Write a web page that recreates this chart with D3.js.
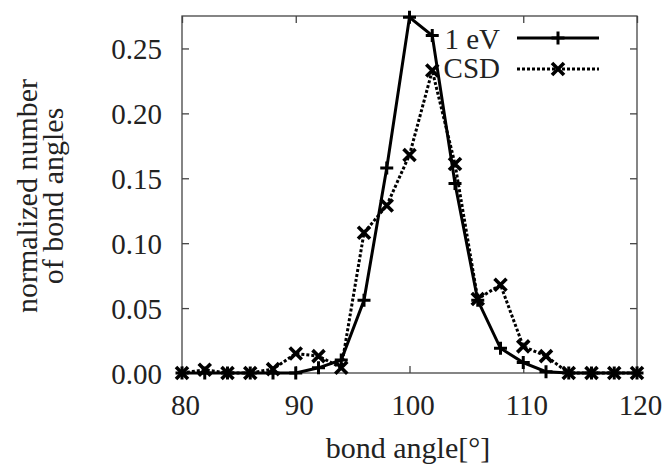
<!DOCTYPE html>
<html>
<head>
<meta charset="utf-8">
<script src="https://cdn.jsdelivr.net/npm/d3@7"></script>
</head>
<body style="margin:0;padding:0;background:#fff">
<svg id="chart" width="663" height="466"></svg>
<script>
// ---- data ----
const angles = [80, 82, 84, 86, 88, 90, 92, 94, 96, 98, 100, 102, 104, 106, 108, 110, 112, 114, 116, 118, 120];
const ev1 = [0, 0, 0, 0, 0, 0, 0.004, 0.010, 0.056, 0.158, 0.274, 0.260, 0.146, 0.056, 0.019, 0.008, 0.001, 0, 0, 0, 0];
const csd = [0, 0.0025, 0, 0, 0.003, 0.015, 0.013, 0.004, 0.108, 0.129, 0.168, 0.233, 0.161, 0.057, 0.068, 0.0205, 0.013, 0, 0, 0, 0];
const xTicks = [80, 90, 100, 110, 120];
const yTicks = [0, 0.05, 0.10, 0.15, 0.20, 0.25];
const seriesNames = ["1 eV", "CSD"];
const xTitle = "bond angle[°]";
const yTitleLines = ["normalized number", "of bond angles"];

// ---- layout ----
const L = 182, R = 637, T = 16, B = 373;
const svg = d3.select("#chart");
svg.append("rect").attr("x", 0).attr("y", 0).attr("width", 663).attr("height", 466).attr("fill", "#fff");
const x = d3.scaleLinear().domain([80, 120]).range([L, R]);
const y = d3.scaleLinear().domain([0, 0.275]).range([B, T]);

const FS = 29;
const FONT = "Liberation Serif";
const TXT = "#222";

// frame
svg.append("rect").attr("x", L).attr("y", T).attr("width", R - L).attr("height", B - T)
  .attr("fill", "none").attr("stroke", "#444").attr("stroke-width", 1.3);

// axes (inward ticks)
const gx = svg.append("g").attr("transform", `translate(0,${B})`)
  .call(d3.axisBottom(x).tickValues(xTicks).tickSize(-7).tickFormat(d3.format("d")));
gx.attr("font-family", FONT).attr("font-size", FS);
gx.select(".domain").remove();
gx.selectAll("text").attr("y", 42).attr("dy", 0).attr("x", 3)
  .attr("font-family", FONT).attr("font-size", FS).attr("fill", TXT);

const gxt = svg.append("g").attr("transform", `translate(0,${T})`)
  .call(d3.axisTop(x).tickValues(xTicks).tickSize(-7).tickFormat(""));
gxt.select(".domain").remove();

const gy = svg.append("g").attr("transform", `translate(${L},0)`)
  .call(d3.axisLeft(y).tickValues(yTicks).tickSize(-7).tickFormat(d3.format(".2f")));
gy.attr("font-family", FONT).attr("font-size", FS);
gy.select(".domain").remove();
gy.selectAll("text").attr("x", -20).attr("dy", 0).attr("y", 10)
  .attr("font-family", FONT).attr("font-size", FS).attr("fill", TXT);

const gyr = svg.append("g").attr("transform", `translate(${R},0)`)
  .call(d3.axisRight(y).tickValues(yTicks).tickSize(-7).tickFormat(""));
gyr.select(".domain").remove();

svg.selectAll(".tick line").attr("stroke", "#444").attr("stroke-width", 1.3);

// titles
svg.append("text").attr("x", 408).attr("y", 458).attr("text-anchor", "middle")
  .attr("font-family", FONT).attr("font-size", 30).attr("fill", TXT).text(xTitle);
const yt = svg.append("text").attr("transform", "translate(37,196) rotate(-90)")
  .attr("text-anchor", "middle").attr("font-family", FONT).attr("font-size", 30).attr("fill", TXT);
yt.append("tspan").attr("x", 0).attr("y", 0).text(yTitleLines[0]);
yt.append("tspan").attr("x", 0).attr("y", 26).text(yTitleLines[1]);

// series
const line = d3.line().x((d, i) => x(angles[i])).y(d => y(d));

function plus(g, cx, cy, s) {
  g.append("path").attr("d", `M${cx - s},${cy}H${cx + s}M${cx},${cy - s}V${cy + s}`)
    .attr("stroke", "#000").attr("stroke-width", 3).attr("fill", "none");
}
function cross(g, cx, cy, s) {
  g.append("path").attr("d", `M${cx - s},${cy - s}L${cx + s},${cy + s}M${cx - s},${cy + s}L${cx + s},${cy - s}`)
    .attr("stroke", "#000").attr("stroke-width", 3.6).attr("fill", "none");
}

const gc = svg.append("g");
gc.append("path").datum(csd).attr("d", line).attr("fill", "none")
  .attr("stroke", "#000").attr("stroke-width", 3).attr("stroke-dasharray", "3,2");
csd.forEach((v, i) => cross(gc, x(angles[i]), y(v), 6));

const ge = svg.append("g");
ge.append("path").datum(ev1).attr("d", line).attr("fill", "none")
  .attr("stroke", "#000").attr("stroke-width", 3);
ev1.forEach((v, i) => plus(ge, x(angles[i]), y(v), 6.5));

// legend
const lg = svg.append("g");
lg.append("text").attr("x", 500).attr("y", 49).attr("text-anchor", "end")
  .attr("font-family", FONT).attr("font-size", FS).attr("fill", TXT).text(seriesNames[0]);
lg.append("text").attr("x", 500).attr("y", 78).attr("text-anchor", "end")
  .attr("font-family", FONT).attr("font-size", FS).attr("fill", TXT).text(seriesNames[1]);
lg.append("line").attr("x1", 517).attr("x2", 599).attr("y1", 38).attr("y2", 38)
  .attr("stroke", "#000").attr("stroke-width", 3);
plus(lg, 558, 38, 6.5);
lg.append("line").attr("x1", 517).attr("x2", 599).attr("y1", 69).attr("y2", 69)
  .attr("stroke", "#000").attr("stroke-width", 3).attr("stroke-dasharray", "3,2");
cross(lg, 558, 69, 6);
</script>
</body>
</html>
